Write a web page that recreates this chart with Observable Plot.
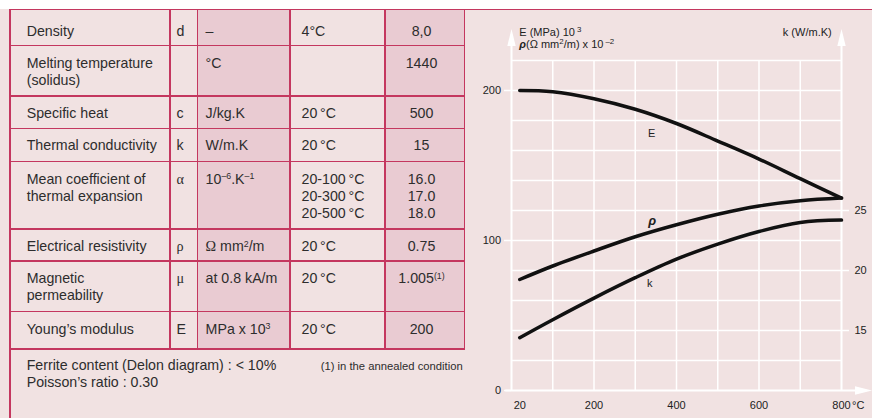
<!DOCTYPE html>
<html>
<head>
<meta charset="utf-8">
<script src="https://cdn.jsdelivr.net/npm/d3@7"></script>
<script src="https://cdn.jsdelivr.net/npm/@observablehq/plot@0.6"></script>
<style>
  html, body { margin: 0; padding: 0; }
  body {
    width: 872px; height: 418px; position: relative; overflow: hidden;
    background: #f1e2e2;
    font-family: "Liberation Sans", Arial, Helvetica, sans-serif;
    color: #2d2d2d;
  }
  #band { position: absolute; left: 0; top: 0; width: 872px; height: 9px; background: #ffffff; }
  .rule { position: absolute; background: #c4375f; }
  .shade { position: absolute; background: #e9cbd2; }
  .cell { position: absolute; font-size: 14.2px; line-height: 17.2px; white-space: nowrap; }
  .cell.center { text-align: center; }
  .gr { font-family: "Liberation Serif", "DejaVu Serif", serif; }
  sup { font-size: 0.62em; vertical-align: baseline; position: relative; top: -0.5em; line-height: 0; }
  #footer { position: absolute; left: 26.7px; top: 356.5px; font-size: 14.2px; line-height: 17.2px; white-space: nowrap; }
  #note { position: absolute; left: 320.7px; top: 360.3px; font-size: 11.25px; line-height: 13px; white-space: nowrap; }
  #chart { position: absolute; left: 470px; top: 10px; width: 402px; height: 408px; }
  .axlab { position: absolute; font-size: 11px; line-height: 11.8px; color: #222; white-space: nowrap; }
  .axlab sup { font-size: 0.72em; margin-left: 2px; top: -0.45em; }
</style>
</head>
<body>
<div id="band"></div>
<div id="table"></div>
<div id="footer"></div>
<div id="note"></div>
<div id="chart"></div>
<div class="axlab" id="ylabLeft" style="left:519.3px; top:26.8px;">E (MPa) 10<sup>3</sup><br><b><i>ρ</i></b>(Ω mm<sup style="margin-left:0">2</sup>/m) x 10<sup>–2</sup></div>
<div class="axlab" id="ylabRight" style="right:40.3px; top:27px;">k (W/m.K)</div>
<script>
// ---- Physical properties table ----
const properties = [
  "Density",
  "Melting temperature\n(solidus)",
  "Specific heat",
  "Thermal conductivity",
  "Mean coefficient of\nthermal expansion",
  "Electrical resistivity",
  "Magnetic\npermeability",
  "Young\u2019s modulus"
];
const symbols = ["d", "", "c", "k", "α", "ρ", "μ", "E"];
const units = ["–", "°C", "J/kg.K", "W/m.K", "10^{–6}.K^{–1}", "Ω mm^{2}/m", "at 0.8 kA/m", "MPa x 10^{3}"];
const conditions = ["4°C", "", "20\u2009°C", "20\u2009°C", "20-100\u2009°C\n20-300\u2009°C\n20-500\u2009°C", "20\u2009°C", "20\u2009°C", "20\u2009°C"];
const values = ["8,0", "1440", "500", "15", "16.0\n17.0\n18.0", "0.75", "1.005^{(1)}", "200"];
const footerLines = ["Ferrite content (Delon diagram) : < 10%", "Poisson\u2019s ratio : 0.30"];
const footnote = "(1) in the annealed condition";

// ---- Temperature curves ----
const temperatures = [20, 100, 200, 300, 400, 500, 600, 700, 800];          // °C
const youngsModulus = [200, 199.2, 194.5, 187.5, 178, 166.3, 154.3, 141.2, 128.3]; // MPa x 10^3
const resistivity = [0.74, 0.83, 0.93, 1.025, 1.105, 1.175, 1.23, 1.265, 1.283];  // Ω mm²/m
const conductivity = [14.4, 15.9, 17.7, 19.4, 20.95, 22.2, 23.25, 24.0, 24.2];     // W/m.K
const xTicks = [20, 200, 400, 600, 800];
const leftTicks = [0, 100, 200];
const kTicks = [15, 20, 25];

// ---- Table layout ----
const colEdges = [10, 170, 197.3, 290, 385, 464.3];
const rowHeights = [36.2, 50.3, 32.3, 33.2, 67.5, 32, 50.5, 37.3];
const tableTop = 9.5;
const lineW = 1.6;
const colPads = [16.7, 6.5, 8.3, 11.5, 0];
const shadedCols = [2, 4];

function markup(s) {
  return s
    .replace(/&/g, "&amp;").replace(/</g, "&lt;")
    .replace(/\^\{([^}]*)\}/g, "<sup>$1</sup>")
    .replace(/([\u0391-\u03C9])/g, '<span class="gr">$1</span>')
    .replace(/\n/g, "<br>");
}

const table = document.getElementById("table");
const rowTops = [tableTop];
rowHeights.forEach(h => rowTops.push(rowTops[rowTops.length - 1] + h));
const tableBottom = rowTops[rowTops.length - 1];

function box(cls, left, top, width, height) {
  const d = document.createElement("div");
  d.className = cls;
  Object.assign(d.style, {left: left + "px", top: top + "px", width: width + "px", height: height + "px"});
  table.appendChild(d);
  return d;
}

shadedCols.forEach(c => box("shade", colEdges[c], tableTop, colEdges[c + 1] - colEdges[c], tableBottom - tableTop));

const columns = [properties, symbols, units, conditions, values];
columns.forEach((col, c) => {
  col.forEach((txt, r) => {
    if (!txt) return;
    const d = document.createElement("div");
    d.className = "cell" + (c === 4 ? " center" : "");
    const padTop = r === 0 ? 13 : 9;
    d.style.top = (rowTops[r] + padTop) + "px";
    if (c === 4) {
      d.style.left = colEdges[4] + "px";
      d.style.width = "73px";
    } else {
      d.style.left = (colEdges[c] + colPads[c]) + "px";
    }
    d.innerHTML = markup(txt);
    table.appendChild(d);
  });
});

// borders
rowTops.forEach(y => box("rule", colEdges[0] - lineW / 2, y - lineW / 2, colEdges[5] - colEdges[0] + lineW, lineW));
colEdges.forEach(x => box("rule", x - lineW / 2, tableTop - lineW / 2, lineW, tableBottom - tableTop + lineW));
box("rule", colEdges[5], tableTop - lineW / 2, 872 - colEdges[5], lineW);          // top rule across the page
box("rule", colEdges[0] - lineW / 2, tableBottom, lineW, 418 - tableBottom);      // footer frame

document.getElementById("footer").innerHTML = footerLines.map(markup).join("<br>");
document.getElementById("note").innerHTML = markup(footnote);

// ---- Chart ----
const kToLeft = k => 8 * (k - 10);      // k axis: 15 → 40, 20 → 80, 25 → 120
const leftToK = v => v / 8 + 10;

const rows = [];
temperatures.forEach((t, i) => {
  rows.push({series: "E", t, v: youngsModulus[i]});
  rows.push({series: "ρ", t, v: resistivity[i] * 100});
  rows.push({series: "k", t, v: kToLeft(conductivity[i])});
});

// slender filled arrowhead, tip at the origin, pointing up
const arrowHead = {
  draw(ctx) {
    ctx.moveTo(0, 0);
    ctx.lineTo(4.2, 17);
    ctx.lineTo(-4.2, 17);
    ctx.closePath();
  }
};

const axisTop = 241;   // tip of the vertical axis arrows (left-axis units)
const axisRight = 874; // tip of the temperature axis arrow (°C)
const white = "#ffffff";

const chart = Plot.plot({
  width: 402,
  height: 408,
  marginLeft: 41,
  marginRight: 31,
  marginTop: 50,
  marginBottom: 28,
  style: {background: "transparent", fontFamily: "'Liberation Sans', Arial, sans-serif", fontSize: "11px", color: "#222", overflow: "visible"},
  x: {domain: [0, 800], axis: null},
  y: {domain: [0, 220], axis: null},
  marks: [
    Plot.ruleX(d3.range(100, 800, 100), {y1: 0, y2: 220, stroke: white, strokeWidth: 1.5}),
    Plot.ruleY(d3.range(20, 221, 20), {x1: 0, x2: 800, stroke: white, strokeWidth: 1.5}),
    Plot.ruleX([0, 800], {y1: 0, y2: axisTop - 8, stroke: white, strokeWidth: 2}),
    Plot.ruleY([0], {x1: -14, x2: axisRight - 20, stroke: white, strokeWidth: 2}),
    Plot.dot([0, 800], {x: d => d, y: () => axisTop, symbol: arrowHead, fill: white, stroke: null}),
    Plot.dot([0], {x: () => axisRight, y: () => 0, symbol: arrowHead, rotate: 90, fill: white, stroke: null}),
    Plot.axisY(leftTicks, {anchor: "left", tickSize: 7, tickPadding: 3.5, stroke: white, strokeWidth: 1.5, fill: "#222", label: null}),
    Plot.axisY(kTicks.map(kToLeft), {anchor: "right", tickSize: 7, tickPadding: 6, stroke: white, strokeWidth: 1.5, fill: "#222", tickFormat: v => String(leftToK(v)), label: null}),
    Plot.axisX(xTicks, {anchor: "bottom", tickSize: 0, tickPadding: 11, fill: "#222", label: null}),
    Plot.text([xTicks[xTicks.length - 1]], {x: d => d, frameAnchor: "bottom", lineAnchor: "top", dy: 11, dx: 10.5, textAnchor: "start", text: () => "°C", fill: "#222"}),
    Plot.line(rows, {x: "t", y: "v", z: "series", stroke: "#111", strokeWidth: 3.5, curve: "catmull-rom"}),
    Plot.text(rows, {filter: d => d.series === "E" && d.t === 300, x: "t", y: "v", text: "series", dx: 16.5, dy: 23.8, fontSize: 11, fill: "#222"}),
    Plot.text(rows, {filter: d => d.series === "ρ" && d.t === 300, x: "t", y: "v", text: "series", dx: 17, dy: -16, fontSize: 13, fontStyle: "italic", fontWeight: "bold", fill: "#222"}),
    Plot.text(rows, {filter: d => d.series === "k" && d.t === 300, x: "t", y: "v", text: "series", dx: 14.5, dy: 5.3, fontSize: 11, fill: "#222"})
  ]
});
document.getElementById("chart").appendChild(chart);
</script>
</body>
</html>
